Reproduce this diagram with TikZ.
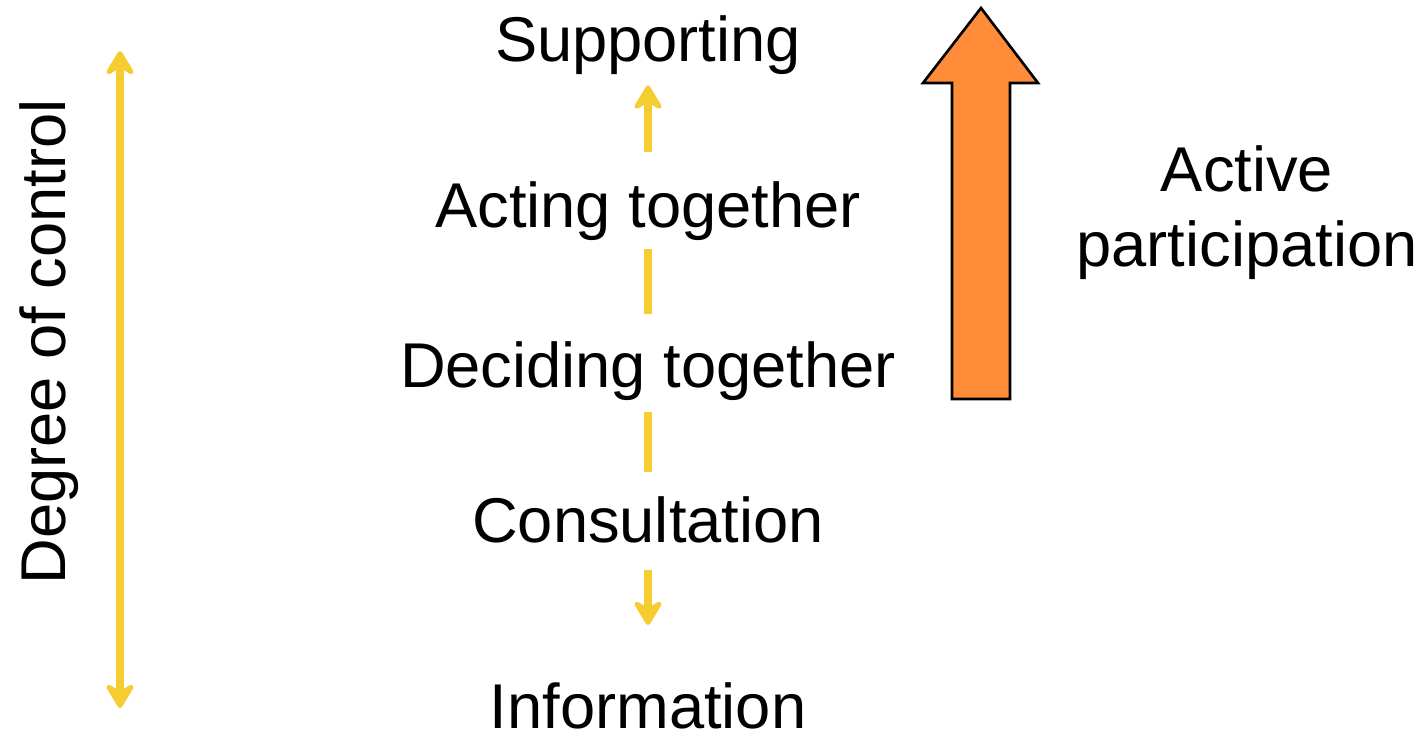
\documentclass[tikz,border=0pt]{standalone}
\usepackage{fontspec}
\setmainfont{Liberation Sans}
\usetikzlibrary{arrows.meta}

\definecolor{ctrlyellow}{RGB}{245,205,48}
\definecolor{partorange}{RGB}{255,140,56}

\tikzset{
  bigtext/.style={font=\fontsize{36}{42.6}\selectfont},
  level/.style={bigtext, anchor=base, inner sep=0pt, text height=26pt, text depth=7.5pt},
  yline/.style={draw=ctrlyellow, line width=4pt},
  ytip/.tip={Stealth[length=0.6cm, width=0.72cm, inset=0.22cm, round]}
}

\begin{document}
\begin{tikzpicture}
\useasboundingbox (0,0) rectangle (28.52,14.66);

% degree of control scale
\coordinate (ctop) at (2.4,13.64);
\coordinate (cbot) at (2.4,0.5);
\draw [yline, ytip-ytip] (cbot) -- (ctop);
\node [bigtext, rotate=90, anchor=base] (control) at (1.3,7.82) {Degree of control};

% levels of participation
\node [level] (supporting) at (12.96,13.42) {Supporting};
\node [level] (acting) at (12.96,10.1) {Acting together};
\node [level] (deciding) at (12.96,6.9) {Deciding together};
\node [level] (consultation) at (12.96,3.8) {Consultation};
\node [level, text depth=0pt] (information) at (12.96,0.1) {Information};

% pieces of the middle line
\draw [yline, -ytip, shorten <=0.6cm, shorten >=0.2cm] (acting) -- (supporting);
\draw [yline, shorten <=0.56cm, shorten >=0.14cm] (deciding) -- (acting);
\draw [yline, shorten <=0.5cm, shorten >=0.2cm] (consultation) -- (deciding);
\draw [yline, -ytip, shorten <=0.26cm, shorten >=1.14cm] (consultation) -- (information);

% big orange arrow
\filldraw [fill=partorange, draw=black, line width=1.5pt]
  (19.04,6.68) -- (20.2,6.68) -- (20.2,13.0) -- (20.76,13.0)
  -- (19.62,14.5) -- (18.46,13.0) -- (19.04,13.0) -- cycle;
\node [bigtext, align=center] (active) at (24.94,10.4) {Active\\participation};
\end{tikzpicture}
\end{document}
